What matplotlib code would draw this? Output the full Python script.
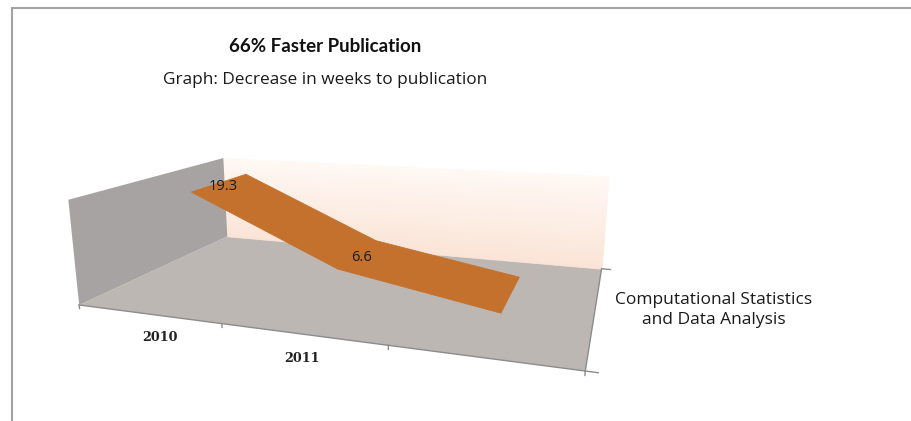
import numpy as np
import matplotlib
matplotlib.use("Agg")
import matplotlib.pyplot as plt
from matplotlib.patches import Rectangle
from mpl_toolkits.mplot3d.art3d import Poly3DCollection

# ---------------- data ----------------
categories = ["2010", "2011", ""]
values = [19.3, 6.6, 1.5]
value_labels = ["19.3", "6.6", ""]
series_name = "Computational Statistics\nand Data Analysis"
z_max = 20.0
title = "66% Faster Publication"
subtitle = "Graph: Decrease in weeks to publication"

# ---------------- figure ----------------
W, H = 911, 421
fig = plt.figure(figsize=(W / 100, H / 100), dpi=100)
fig.patch.set_facecolor("white")
ax = fig.add_axes([0.0, 0.0, H / W, 1.0], projection="3d", computed_zorder=False)
ax.set_axis_off()
ax.patch.set_alpha(0)
ncat = len(categories)

# ---------- fit the camera so the box sits like the reference ----------
corner_xyz = np.array([[0, 0, 0], [ncat, 0, 0], [0, 1, 0], [ncat, 1, 0],
                       [0, 0, z_max], [0, 1, z_max]], float)
target_px = np.array([[79, 305], [585, 372], [225, 237], [602, 267],
                      [69, 199], [225, 159]], float)
target = np.column_stack([target_px[:, 0], H - target_px[:, 1]])


def set_view(p):
    elev, azim, roll, lf, la, lb = p
    ax.view_init(elev=elev, azim=azim, roll=roll)
    ax.set_proj_type("persp", focal_length=float(np.exp(lf)))
    ax.set_box_aspect((1, float(np.exp(la)), float(np.exp(lb))))


def lims():
    ax.set_xlim(0, ncat)
    ax.set_ylim(0, 1)
    ax.set_zlim(0, z_max)


lims()


def proj2d(pts):
    M = ax.get_proj()
    P = np.column_stack([pts, np.ones(len(pts))]) @ M.T
    return P[:, :2] / P[:, 3:4]


def sim_fit(P, T):
    pm, tm = P.mean(0), T.mean(0)
    pc, tc = P - pm, T - tm
    s = (pc * tc).sum() / (pc * pc).sum()
    t = tm - s * pm
    return s, t, ((s * P + t - T) ** 2).sum()


def objective(p):
    if not (0.03 < np.exp(p[3]) < 20) or abs(p[0]) > 89:
        return 1e12
    try:
        set_view(p)
        P = proj2d(corner_xyz)
        s, t, err = sim_fit(P, target)
        if not np.isfinite(err) or s <= 0:
            return 1e12
        return err
    except Exception:
        return 1e12


def nelder_mead(f, x0, step, iters=1500):
    n = len(x0)
    pts = [np.array(x0, float)]
    for i in range(n):
        x = np.array(x0, float)
        x[i] += step[i]
        pts.append(x)
    vals = [f(p) for p in pts]
    for _ in range(iters):
        order = np.argsort(vals)
        pts = [pts[i] for i in order]
        vals = [vals[i] for i in order]
        c = np.mean(pts[:-1], axis=0)
        xr = c + (c - pts[-1]); fr = f(xr)
        if fr < vals[0]:
            xe = c + 2 * (c - pts[-1]); fe = f(xe)
            if fe < fr:
                pts[-1], vals[-1] = xe, fe
            else:
                pts[-1], vals[-1] = xr, fr
        elif fr < vals[-2]:
            pts[-1], vals[-1] = xr, fr
        else:
            xc = c + 0.5 * (pts[-1] - c); fc = f(xc)
            if fc < vals[-1]:
                pts[-1], vals[-1] = xc, fc
            else:
                for i in range(1, len(pts)):
                    pts[i] = pts[0] + 0.5 * (pts[i] - pts[0])
                    vals[i] = f(pts[i])
    i = int(np.argmin(vals))
    return pts[i], vals[i]


best, best_val = None, np.inf
for e0 in (15, 30):
    for a0 in (-80, -60):
        for f0 in (0.3, 0.8):
            x0 = [e0, a0, 0.0, np.log(f0), np.log(0.6), np.log(0.3)]
            x, v = nelder_mead(objective, x0, [5, 8, 3, 0.4, 0.3, 0.3], 900)
            if v < best_val:
                best, best_val = x, v
best, best_val = nelder_mead(objective, best, [1, 1, 1, 0.05, 0.05, 0.05], 1500)

set_view(best)
lims()
s, t, _ = sim_fit(proj2d(corner_xyz), target)

# place the axes so that projected coordinates land on the wanted pixels
fig.canvas.draw()
d0 = ax.transData.transform((0, 0))
d1 = ax.transData.transform((1, 1))
sc = d1 - d0
bb = ax.get_position()
x0p, y0p, wp, hp = bb.x0 * W, bb.y0 * H, bb.width * W, bb.height * H
k = s / sc[0]
nx0 = t[0] + (x0p - d0[0]) * k
ny0 = t[1] + (y0p - d0[1]) * k
ax.set_position([nx0 / W, ny0 / H, wp * k / W, hp * k / H])
set_view(best)
lims()
fig.canvas.draw()


def to_px(x, y, z):
    p = proj2d(np.array([[x, y, z]], float))[0]
    return ax.transData.transform(p)


def add_poly(verts, **kw):
    pc = Poly3DCollection(verts, **kw)
    pc.set_clip_on(False)
    ax.add_collection3d(pc)
    return pc


# ---------------- scene ----------------
floor_c = "#bdb7b4"
lwall_c = "#a6a3a2"
rib_c = "#c4712e"
axis_c = "#8c8c8c"

add_poly([[(0, 0, 0), (ncat, 0, 0), (ncat, 1, 0), (0, 1, 0)]],
         facecolors=floor_c, edgecolors="none", zorder=1)

# back wall with a soft vertical gradient
nstrip = 24
bot = np.array([250, 228, 214]) / 255
top = np.array([255, 248, 244]) / 255
for i in range(nstrip):
    za, zb = z_max * i / nstrip, z_max * (i + 1) / nstrip
    col = bot + (top - bot) * (i + 0.5) / nstrip
    add_poly([[(0, 1, za), (ncat, 1, za), (ncat, 1, zb), (0, 1, zb)]],
             facecolors=[col], edgecolors=[col], linewidths=0.5, zorder=1)

add_poly([[(0, 0, 0), (0, 1, 0), (0, 1, z_max), (0, 0, z_max)]],
         facecolors=lwall_c, edgecolors="none", zorder=2)

# axis lines and ticks
ax.plot([0, ncat], [0, 0], [0, 0], color=axis_c, lw=1.0, zorder=3, clip_on=False)
ax.plot([ncat, ncat], [0, 1], [0, 0], color=axis_c, lw=1.0, zorder=3, clip_on=False)
for i in range(ncat + 1):
    ax.plot([i, i], [0, 0], [0, -0.035 * z_max], color=axis_c, lw=1.0, zorder=3, clip_on=False)
for yy in (0, 1):
    ax.plot([ncat, ncat + 0.06], [yy, yy], [0, 0], color=axis_c, lw=1.0, zorder=3, clip_on=False)

# ribbon
y_front, y_back = 0.3, 0.7
xc = np.arange(ncat) + 0.5
segs = []
for i in range(ncat - 1):
    segs.append([(xc[i], y_front, values[i]), (xc[i + 1], y_front, values[i + 1]),
                 (xc[i + 1], y_back, values[i + 1]), (xc[i], y_back, values[i])])
add_poly(segs, facecolors=rib_c, edgecolors=rib_c, linewidths=0.6, zorder=4)

lims()

# data labels
for i, lab in enumerate(value_labels):
    if lab:
        px, py = to_px(xc[i], 0.5, values[i])
        fig.text((px + 3) / W, (py - 4) / H, lab, ha="center", va="center",
                 fontsize=10.5, family="Open Sans", color="#1a1a1a")

# category labels
label_dx = [12, 0, 0]
for i, lab in enumerate(categories):
    if lab:
        px, py = to_px(xc[i], 0, 0)
        fig.text((px + label_dx[i]) / W, (py - 24) / H, lab, ha="center", va="center",
                 fontsize=9.2, family="DejaVu Serif", weight="bold", color="#222222")

# series name
fig.text(714 / W, (H - 310) / H, series_name, ha="center", va="center",
         fontsize=12.5, family="Open Sans", color="#1a1a1a", linespacing=1.4)

fig.text(325 / W, (H - 47) / H, title, ha="center", va="center",
         fontsize=13.5, family="Lato", weight="bold", color="#111111")
fig.text(325 / W, (H - 80) / H, subtitle, ha="center", va="center",
         fontsize=12.4, family="Open Sans", color="#1a1a1a")

fig.add_artist(Rectangle((12 / W, -0.2), 2.0, (H - 8) / H + 0.2, transform=fig.transFigure,
                         fill=False, ec="#a3a3a3", lw=1.5))

fig.savefig("out.png", dpi=100, facecolor="white")
